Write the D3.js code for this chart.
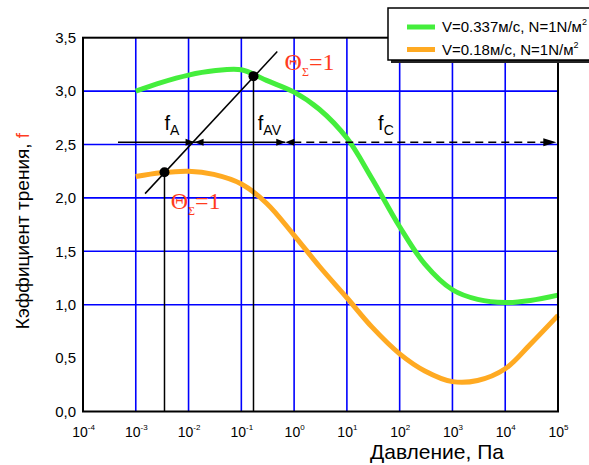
<!DOCTYPE html>
<html>
<head>
<meta charset="utf-8">
<script src="https://cdn.jsdelivr.net/npm/d3@7"></script>
<style>
  body { margin: 0; background: #fff; }
  text { font-family: Arial, "Liberation Sans", sans-serif; }
</style>
</head>
<body>
<div id="chart"></div>
<script>
// Data (pressure in Pa, friction coefficient f)
var pressure = [1e-3, 3e-3, 1e-2, 3e-2, 1e-1, 3e-1, 1, 3, 10, 30, 100, 300, 1e3, 3e3, 1e4, 3e4, 1e5];
var fGreen  = [3.00, 3.08, 3.15, 3.19, 3.20, 3.10, 2.99, 2.83, 2.56, 2.18, 1.73, 1.38, 1.14, 1.05, 1.02, 1.04, 1.09];
var fOrange = [2.20, 2.235, 2.25, 2.22, 2.13, 1.95, 1.65, 1.36, 1.065, 0.79, 0.54, 0.38, 0.28, 0.29, 0.40, 0.63, 0.90];
var seriesNames = ["V=0.337м/с, N=1N/м", "V=0.18м/с, N=1N/м"];

var xExponents = [-4, -3, -2, -1, 0, 1, 2, 3, 4, 5];
var yTicks = [0, 0.5, 1, 1.5, 2, 2.5, 3, 3.5];
var yGrid = [1, 1.5, 2, 2.5, 3];

// annotation values (also)
var dotPoints = [[3.5e-3, 2.24], [0.17, 3.14]];
var tangent = [[1.5e-3, 2.04], [0.48, 3.37]];
var arrowLevel = 2.52;
var arrowSolid = [4.6e-4, 0.68];
var arrowDashed = [0.68, 0.93e5];
var bowties = [1.3e-2, 0.68];
var fLabels = [[3.5e-3, "A"], [0.205, "AV"], [39, "C"]];
var fLabelLevel = 2.636;
var thetaLabels = [[0.66, 3.2], [4.6e-3, 1.895]];

var parameters = {
    "width": 589,
    "height": 465,
    "left": 83,
    "right": 558,
    "top": 37.7,
    "bottom": 411.5,
    "green": "#44ee3c",
    "orange": "#ffaa22",
    "grid": "#0000ff",
    "red": "#ff3c1e"
};

var svg = d3.select("#chart").append("svg")
    .attr("width", parameters.width)
    .attr("height", parameters.height);

var x = d3.scaleLog().domain([1e-4, 1e5]).range([parameters.left, parameters.right]);
var y = d3.scaleLinear().domain([0, 3.5]).range([parameters.bottom, parameters.top]);

// Blue grid
svg.append("g").selectAll("line.v")
    .data(xExponents.slice(1, -1))
    .join("line")
    .attr("x1", d => x(Math.pow(10, d))).attr("x2", d => x(Math.pow(10, d)))
    .attr("y1", y(0)).attr("y2", y(3.5))
    .style("stroke", parameters.grid).style("stroke-width", 1.6);

svg.append("g").selectAll("line.h")
    .data(yGrid)
    .join("line")
    .attr("x1", x(1e-4)).attr("x2", x(1e5))
    .attr("y1", d => y(d)).attr("y2", d => y(d))
    .style("stroke", parameters.grid).style("stroke-width", 1.6);

// Axes (labels only)
var xAxis = svg.append("g")
    .attr("transform", "translate(0," + y(0) + ")")
    .call(d3.axisBottom(x).tickValues(xExponents.map(e => Math.pow(10, e))).tickSize(0).tickFormat(""));
xAxis.select(".domain").remove();
xAxis.selectAll(".tick text").remove();
xAxis.selectAll(".tick").each(function(d, i) {
    var t = d3.select(this).append("text")
        .attr("y", 25)
        .attr("text-anchor", "middle")
        .style("font-size", "14px")
        .style("fill", "#000");
    t.append("tspan").text("10");
    t.append("tspan").attr("dy", -7).style("font-size", "8px").text(xExponents[i]);
});

var yAxis = svg.append("g")
    .attr("transform", "translate(" + (x(1e-4) - 4) + ",0)")
    .call(d3.axisLeft(y).tickValues(yTicks).tickSize(0)
        .tickFormat(d => d3.format(".1f")(d).replace(".", ",")));
yAxis.select(".domain").remove();
yAxis.selectAll(".tick text")
    .style("font-size", "15px")
    .style("font-family", "Arial, 'Liberation Sans', sans-serif")
    .style("fill", "#000");

// Curves
var line = d3.line()
    .x((d, i) => x(pressure[i]))
    .y(d => y(d))
    .curve(d3.curveCatmullRom.alpha(0.5));

svg.append("path").datum(fGreen)
    .attr("d", line)
    .style("fill", "none").style("stroke", parameters.green).style("stroke-width", 5);
svg.append("path").datum(fOrange)
    .attr("d", line)
    .style("fill", "none").style("stroke", parameters.orange).style("stroke-width", 5);

// Black drop lines and tangent
svg.append("g").selectAll("line")
    .data(dotPoints)
    .join("line")
    .attr("x1", d => x(d[0])).attr("x2", d => x(d[0]))
    .attr("y1", d => y(d[1])).attr("y2", y(0))
    .style("stroke", "#000").style("stroke-width", 1.5);

svg.append("line")
    .attr("x1", x(tangent[0][0])).attr("y1", y(tangent[0][1]))
    .attr("x2", x(tangent[1][0])).attr("y2", y(tangent[1][1]))
    .style("stroke", "#000").style("stroke-width", 1.5);

svg.append("g").selectAll("circle")
    .data(dotPoints)
    .join("circle")
    .attr("cx", d => x(d[0])).attr("cy", d => y(d[1]))
    .attr("r", 5)
    .style("fill", "#000");

// Horizontal arrow line
var ay = y(arrowLevel);
svg.append("line")
    .attr("x1", x(arrowSolid[0])).attr("x2", x(arrowSolid[1]))
    .attr("y1", ay).attr("y2", ay)
    .style("stroke", "#000").style("stroke-width", 1.5);
svg.append("line")
    .attr("x1", x(arrowDashed[0]) + 8).attr("x2", x(arrowDashed[1]) - 10)
    .attr("y1", ay).attr("y2", ay)
    .style("stroke", "#000").style("stroke-width", 1.5)
    .style("stroke-dasharray", "8,5");
var ax = x(arrowDashed[1]);
svg.append("path")
    .attr("d", "M" + ax + "," + ay + "L" + (ax - 13) + "," + (ay - 4) + "L" + (ax - 13) + "," + (ay + 4) + "Z")
    .style("fill", "#000");

// Bowtie markers
svg.append("g").selectAll("path")
    .data(bowties)
    .join("path")
    .attr("d", d => {
        var cx = x(d);
        return "M" + cx + "," + ay + "L" + (cx - 9) + "," + (ay - 3.5) + "L" + (cx - 9) + "," + (ay + 3.5) + "Z" +
               "M" + cx + "," + ay + "L" + (cx + 9) + "," + (ay - 3.5) + "L" + (cx + 9) + "," + (ay + 3.5) + "Z";
    })
    .style("fill", "#000");

// f labels
svg.append("g").selectAll("text")
    .data(fLabels)
    .join("text")
    .attr("x", d => x(d[0]))
    .attr("y", y(fLabelLevel))
    .style("font-size", "20px")
    .style("fill", "#000")
    .each(function(d) {
        var t = d3.select(this);
        t.append("tspan").text("f");
        t.append("tspan").attr("dy", 5).style("font-size", "14px").text(d[1]);
    });

// Theta labels
svg.append("g").selectAll("text")
    .data(thetaLabels)
    .join("text")
    .attr("x", d => x(d[0]))
    .attr("y", d => y(d[1]))
    .style("font-family", "'Liberation Serif', 'DejaVu Serif', serif")
    .style("font-size", "24px")
    .style("fill", parameters.red)
    .each(function() {
        var t = d3.select(this);
        t.append("tspan").text("Θ");
        t.append("tspan").attr("dy", 6).style("font-size", "12px").text("Σ");
        t.append("tspan").attr("dy", -6).text("=1");
    });

// Plot frame
svg.append("rect")
    .attr("x", x(1e-4)).attr("y", y(3.5))
    .attr("width", x(1e5) - x(1e-4)).attr("height", y(0) - y(3.5))
    .style("fill", "none").style("stroke", "#000").style("stroke-width", 2);

// Axis titles
svg.append("text")
    .attr("transform", "translate(29,231) rotate(-90)")
    .attr("text-anchor", "middle")
    .style("font-size", "19px")
    .style("fill", "#000")
    .call(t => {
        t.append("tspan").text("Кэффициент трения, ");
        t.append("tspan").style("fill", parameters.red).text("f");
    });

svg.append("text")
    .attr("x", 437).attr("y", 459)
    .attr("text-anchor", "middle")
    .style("font-size", "21px")
    .style("fill", "#000")
    .text("Давление, Па");

// Legend
var legend = svg.append("g").attr("transform", "translate(388,8)");
legend.append("rect")
    .attr("x", 3).attr("y", 3).attr("width", 230).attr("height", 52)
    .style("fill", "#222");
legend.append("rect")
    .attr("x", 0).attr("y", 0).attr("width", 230).attr("height", 52)
    .style("fill", "#fff").style("stroke", "#000").style("stroke-width", 1.5);

var legendColors = [parameters.green, parameters.orange];
var rows = legend.selectAll("g.row")
    .data(seriesNames)
    .join("g")
    .attr("transform", (d, i) => "translate(0," + (19 + i * 22.5) + ")");
rows.append("line")
    .attr("x1", 19).attr("x2", 47)
    .style("stroke", (d, i) => legendColors[i]).style("stroke-width", 5);
rows.append("text")
    .attr("x", 54).attr("y", 5)
    .style("font-size", "15px")
    .style("fill", "#000")
    .each(function(d) {
        var t = d3.select(this);
        t.append("tspan").text(d);
        t.append("tspan").attr("dy", -7).style("font-size", "9px").text("2");
    });
</script>
</body>
</html>
